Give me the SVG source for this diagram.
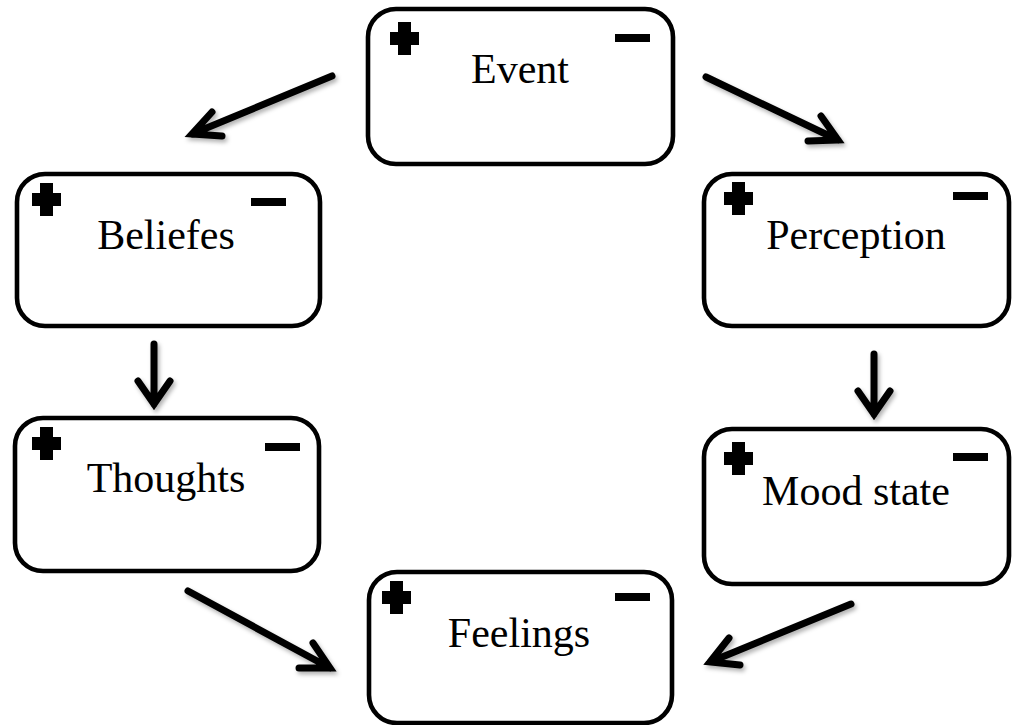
<svg xmlns="http://www.w3.org/2000/svg" xmlns:xlink="http://www.w3.org/1999/xlink" width="1020" height="725" viewBox="0 0 1020 725">
<style>
.box{fill:#fff;stroke:#000;stroke-width:4.6}
.lbl{font-family:"Liberation Serif","Times New Roman",serif;font-size:42px;fill:#000;text-anchor:middle}
.arr{fill:none;stroke:#000;stroke-width:7;stroke-linecap:round;stroke-linejoin:miter;stroke-miterlimit:10}
</style>
<defs>
<path id="plus" d="M8 0H21V10H29V23H21V33H8V23H0V10H8Z" fill="#000"/>
<rect id="minus" width="35" height="8" fill="#000"/>
<filter id="sh" x="-20%" y="-20%" width="140%" height="140%">
<feDropShadow dx="2" dy="3" stdDeviation="2" flood-color="#000" flood-opacity="0.3"/>
</filter>
</defs>
<rect width="1020" height="725" fill="#fff"/>
<g id="event">
<rect class="box" x="368" y="9" width="305" height="155" rx="28"/>
<use xlink:href="#plus" x="390" y="22"/>
<use xlink:href="#minus" x="615" y="34"/>
<text class="lbl" x="520" y="83">Event</text>
</g>
<g id="beliefes">
<rect class="box" x="17" y="174" width="303" height="152" rx="28"/>
<use xlink:href="#plus" x="32" y="183"/>
<use xlink:href="#minus" x="251" y="198"/>
<text class="lbl" x="166" y="249">Beliefes</text>
</g>
<g id="perception">
<rect class="box" x="704" y="174" width="305" height="152" rx="28"/>
<use xlink:href="#plus" x="724" y="182"/>
<use xlink:href="#minus" x="953" y="192"/>
<text class="lbl" x="856" y="249">Perception</text>
</g>
<g id="thoughts">
<rect class="box" x="15" y="418" width="304" height="153" rx="28"/>
<use xlink:href="#plus" x="32" y="427"/>
<use xlink:href="#minus" x="265" y="443"/>
<text class="lbl" x="166" y="492">Thoughts</text>
</g>
<g id="mood">
<rect class="box" x="704" y="429" width="305" height="155" rx="28"/>
<use xlink:href="#plus" x="724" y="442"/>
<use xlink:href="#minus" x="953" y="453"/>
<text class="lbl" x="856" y="505">Mood state</text>
</g>
<g id="feelings">
<rect class="box" x="369" y="572" width="303" height="151" rx="28"/>
<use xlink:href="#plus" x="382" y="581"/>
<use xlink:href="#minus" x="615" y="593"/>
<text class="lbl" x="519" y="647">Feelings</text>
</g>
<g id="connectors" filter="url(#sh)">
<path class="arr" d="M332 76L192 134M212 112L192 134L222 136"/>
<path class="arr" d="M706 77L838 140M821 116L838 140L808 141"/>
<path class="arr" d="M154 344L154 404M138 381L154 404L170 381"/>
<path class="arr" d="M874 354L874 414M858 391L874 414L890 391"/>
<path class="arr" d="M188 591L330 668M313 643L330 668L299 668"/>
<path class="arr" d="M851 604L710 662M729 638L710 662L740 665"/>
</g>
</svg>
